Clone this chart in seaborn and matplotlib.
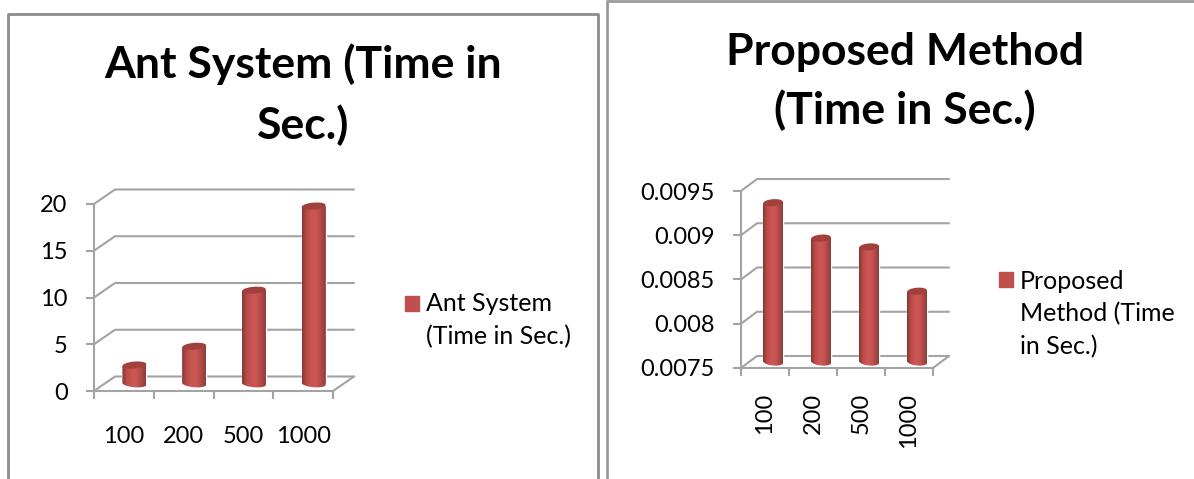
import numpy as np
import pandas as pd
import matplotlib
matplotlib.use('Agg')
import matplotlib.pyplot as plt
import seaborn as sns
from matplotlib.colors import LinearSegmentedColormap
from matplotlib.lines import Line2D
from matplotlib.patches import Ellipse, Patch
from matplotlib.path import Path
from matplotlib.transforms import IdentityTransform

# data
categories = ['100', '200', '500', '1000']
ant_time = [2, 4, 10, 19]
ant_ticks = [0, 5, 10, 15, 20]
ant_labels = ['0', '5', '10', '15', '20']
proposed_time = [0.0093, 0.0089, 0.0088, 0.0083]
proposed_ticks = [0.0075, 0.008, 0.0085, 0.009, 0.0095]
proposed_labels = ['0.0075', '0.008', '0.0085', '0.009', '0.0095']

W, H = 1194, 479
GRAY = '#a3a3a3'
BORDER = '#8c8c8c'
RED = '#c0504d'
shade = LinearSegmentedColormap.from_list('cyl', ['#8a3735', '#b94c49', '#cb5653', '#cb5653', '#b04a47', '#8f3d3a'])

sns.set_theme(style='white')
plt.rcParams['font.family'] = ['Lato', 'DejaVu Sans']


def chart(fig, box, values, ticks, labels, depth, bar_px, rot, pad):
    left, right, top, bottom = box
    ax = fig.add_axes([left / W, 1 - bottom / H, (right - left) / W, (bottom - top) / H])
    ax.patch.set_alpha(0)
    df = pd.DataFrame({'nodes': categories, 'time': values})
    px_x = (right - left) / len(categories)
    sns.barplot(data=df, x='nodes', y='time', color=RED, saturation=1, width=bar_px / px_x, ax=ax, zorder=3)

    ax.set_xlim(-0.5, len(categories) - 0.5)
    ax.set_ylim(ticks[0], ticks[-1])
    ax.set_xlabel('')
    ax.set_ylabel('')
    px_y = (bottom - top) / (ticks[-1] - ticks[0])
    dx = depth[0] / px_x
    dy = depth[1] / px_y

    # walls and floor of the 3d box
    x0, x1 = ax.get_xlim()
    for t in ticks:
        ax.add_line(Line2D([x0, x0 + dx, x1 + dx], [t, t + dy, t + dy], color=GRAY, lw=1.5, clip_on=False, zorder=1))
    ax.add_line(Line2D([x1, x1 + dx], [ticks[0], ticks[0] + dy], color=GRAY, lw=1.5, clip_on=False, zorder=1))

    # cylinders on top of the seaborn bars
    for patch, v in zip(ax.patches, values):
        px0 = patch.get_x() + dx / 2
        w = patch.get_width()
        base = ticks[0] + dy / 2
        patch.set_x(px0)
        patch.set_y(base)
        patch.set_height(v - ticks[0])
        patch.set_clip_on(False)
        (a, b), (c, d) = ax.transData.transform([(px0, base), (px0 + w, v + dy / 2)])
        cx = (a + c) / 2
        ang = np.linspace(np.pi, 2 * np.pi, 30)
        arc_x = cx + (c - a) / 2 * np.cos(ang)
        arc_y = b + 3.5 * np.sin(ang) + 1 * np.cos(ang) * -1
        outline = Path(np.column_stack([np.r_[arc_x, c, a, a], np.r_[arc_y, d + 1, d - 1, b]]))
        im = ax.imshow(np.linspace(0, 1, 64).reshape(1, -1), cmap=shade, aspect='auto', zorder=4,
                       extent=(px0, px0 + w, base - 6 / px_y, v + dy / 2))
        im.set_clip_path(outline, IdentityTransform())
        ax.add_patch(Ellipse((cx, d), c - a, 7, angle=5, fc='#a2403d', ec='none', zorder=5,
                             transform=IdentityTransform(), clip_on=False))
    ax.set_xlim(x0, x1)
    ax.set_ylim(ticks[0], ticks[-1])

    sns.despine(ax=ax)
    for side in ['left', 'bottom']:
        ax.spines[side].set_color(GRAY)
        ax.spines[side].set_linewidth(1.5)
    ax.set_yticks(ticks, labels)
    ax.set_xticks(np.arange(len(categories) + 1) - 0.5, [])
    ax.set_xticks(np.arange(len(categories)), categories, minor=True, rotation=rot)
    ax.tick_params(axis='both', which='major', length=6, width=1.5, color=GRAY, left=True, bottom=True)
    ax.tick_params(axis='y', labelsize=17, pad=13, labelcolor='black')
    ax.tick_params(axis='x', which='minor', length=0, labelsize=17, pad=pad, labelcolor='black')
    return ax


def border(fig, xs, ys, color=BORDER):
    fig.add_artist(Line2D(np.array(xs) / W, 1 - np.array(ys) / H, color=color, lw=2))


fig = plt.figure(figsize=(W / 100, H / 100), dpi=100, facecolor='white')

border(fig, [8, 8, 598, 598], [479, 14, 14, 479])
border(fig, [607, 607, 1194], [479, 1, 1], color='#9a9a9a')

ax1 = chart(fig, (94, 333, 204, 391), ant_time, ant_ticks, ant_labels, (21, 14.5), 24, 0, 25)
ax2 = chart(fig, (741, 933, 191, 368), proposed_time, proposed_ticks, proposed_labels, (16, 12), 20, 90, 18)

fig.text(303 / W, 1 - 94.5 / H, 'Ant System (Time in\nSec.)', ha='center', va='center', fontsize=32,
         fontweight='bold', color='black', linespacing=1.55)
fig.text(905 / W, 1 - 81.5 / H, 'Proposed Method\n(Time in Sec.)', ha='center', va='center', fontsize=32,
         fontweight='bold', color='black', linespacing=1.5)

for ax, text, anchor, nudge in [(ax1, 'Ant System\n(Time in Sec.)', (405, 320), 13),
                                (ax2, 'Proposed\nMethod (Time\nin Sec.)', (999, 314), 26)]:
    leg = ax.legend([Patch(color=RED)], [text], loc='center left', frameon=False, fontsize=18,
                    bbox_to_anchor=(anchor[0] / W, 1 - anchor[1] / H), bbox_transform=fig.transFigure,
                    borderaxespad=0, borderpad=0, handlelength=0.56, handleheight=0.56, handletextpad=0.28,
                    labelspacing=0, labelcolor='black')
    leg.get_texts()[0].set_linespacing(1.5)
    leg.get_patches()[0].set_y(nudge)

fig.savefig('out.png', dpi=100)
